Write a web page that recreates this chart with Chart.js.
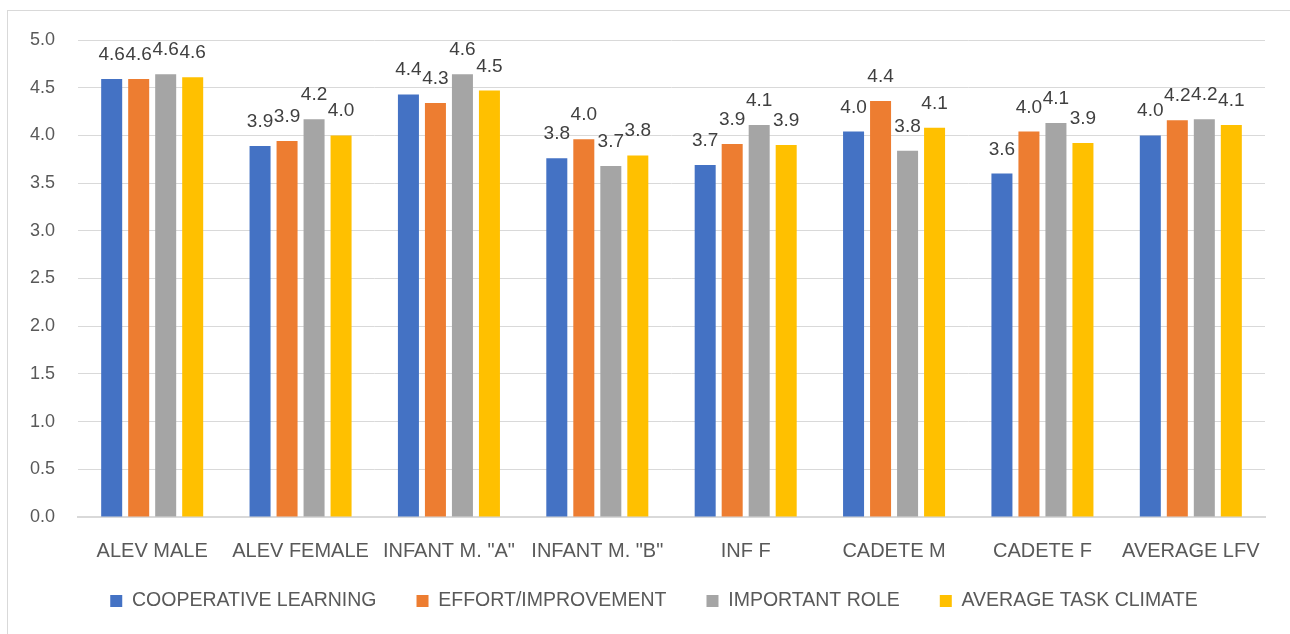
<!DOCTYPE html>
<html>
<head>
<meta charset="utf-8">
<script src="https://cdn.jsdelivr.net/npm/chart.js@4"></script>
<style>
html, body { margin: 0; padding: 0; background: #fff; }
#frame { position: absolute; left: 7px; top: 10px; width: 1282px; height: 640px; border: 1px solid #d9d9d9; }
#wrap { position: absolute; left: 0; top: 0; width: 1290px; height: 634px; }
</style>
</head>
<body>
<div id="frame"></div>
<div id="wrap"><canvas id="myChart"></canvas></div>
<script>
var categories = ['ALEV MALE', 'ALEV FEMALE', 'INFANT M. "A"', 'INFANT M. "B"', 'INF F', 'CADETE M', 'CADETE F', 'AVERAGE LFV'];
var cooperative = [4.59, 3.89, 4.43, 3.76, 3.69, 4.04, 3.60, 4.00];
var effort = [4.59, 3.94, 4.34, 3.96, 3.91, 4.36, 4.04, 4.16];
var important = [4.64, 4.17, 4.64, 3.68, 4.11, 3.84, 4.13, 4.17];
var taskClimate = [4.61, 4.00, 4.47, 3.79, 3.90, 4.08, 3.92, 4.11];

var fontName = '"Liberation Sans", Arial, sans-serif';

// value labels above each bar, like the excel data labels
var valueLabels = {
    id: 'valueLabels',
    afterDatasetsDraw: function(chart) {
        var ctx = chart.ctx;
        ctx.save();
        ctx.font = '19px ' + fontName;
        ctx.fillStyle = '#404040';
        ctx.textAlign = 'center';
        ctx.textBaseline = 'alphabetic';
        chart.data.datasets.forEach(function(ds, i) {
            chart.getDatasetMeta(i).data.forEach(function(bar, j) {
                ctx.fillText(ds.data[j].toFixed(1), bar.x, bar.y - 19);
            });
        });
        ctx.restore();
    }
};

// legend: fixed height, then moved so its row sits at y 601 and is centred under the frame
var legendBox = {
    id: 'legendBox',
    beforeLayout: function(chart) {
        var legend = chart.legend;
        if (legend && !legend._patched) {
            var origFit = legend.fit;
            legend.fit = function() {
                origFit.call(this);
                this.height = 57;
            };
            legend._patched = true;
        }
    },
    afterLayout: function(chart) {
        var legend = chart.legend;
        var shiftX = 654 - (legend.left + legend.right) / 2;
        legend.left += shiftX;
        legend.right += shiftX;
        var shiftY = 601 - (legend.top + 40 + 9.75);
        legend.top += shiftY;
        legend.bottom += shiftY;
    }
};

var ctx = document.getElementById('myChart').getContext('2d');
var chart = new Chart(ctx, {
    type: 'bar',
    data: {
        labels: categories,
        datasets: [
            { label: 'COOPERATIVE LEARNING', data: cooperative, backgroundColor: '#4472C4' },
            { label: 'EFFORT/IMPROVEMENT', data: effort, backgroundColor: '#ED7D31' },
            { label: 'IMPORTANT ROLE', data: important, backgroundColor: '#A5A5A5' },
            { label: 'AVERAGE TASK CLIMATE', data: taskClimate, backgroundColor: '#FFC000' }
        ]
    },
    options: {
        responsive: true,
        maintainAspectRatio: false,
        animation: false,
        categoryPercentage: 0.728,
        barPercentage: 0.778,
        layout: { padding: { top: 40, left: 0, right: 25, bottom: 0 } },
        scales: {
            x: {
                grid: { display: false, drawTicks: false },
                border: { color: '#D9D9D9', width: 2 },
                ticks: {
                    color: '#595959',
                    font: { family: fontName, size: 20 },
                    padding: 22,
                    maxRotation: 0,
                    minRotation: 0,
                    autoSkip: false
                },
                afterFit: function(scale) { scale.height = 60; }
            },
            y: {
                min: 0,
                max: 5,
                grid: { color: '#D9D9D9', drawTicks: false },
                border: { display: false },
                ticks: {
                    stepSize: 0.5,
                    color: '#595959',
                    font: { family: fontName, size: 18 },
                    padding: 23,
                    callback: function(v) { return Number(v).toFixed(1); }
                },
                afterFit: function(scale) { scale.width = 78; }
            }
        },
        plugins: {
            legend: {
                position: 'bottom',
                labels: {
                    boxWidth: 12,
                    boxHeight: 12,
                    padding: 40,
                    color: '#595959',
                    font: { family: fontName, size: 19.5 }
                }
            },
            tooltip: { enabled: false }
        }
    },
    plugins: [valueLabels, legendBox]
});
</script>
</body>
</html>
